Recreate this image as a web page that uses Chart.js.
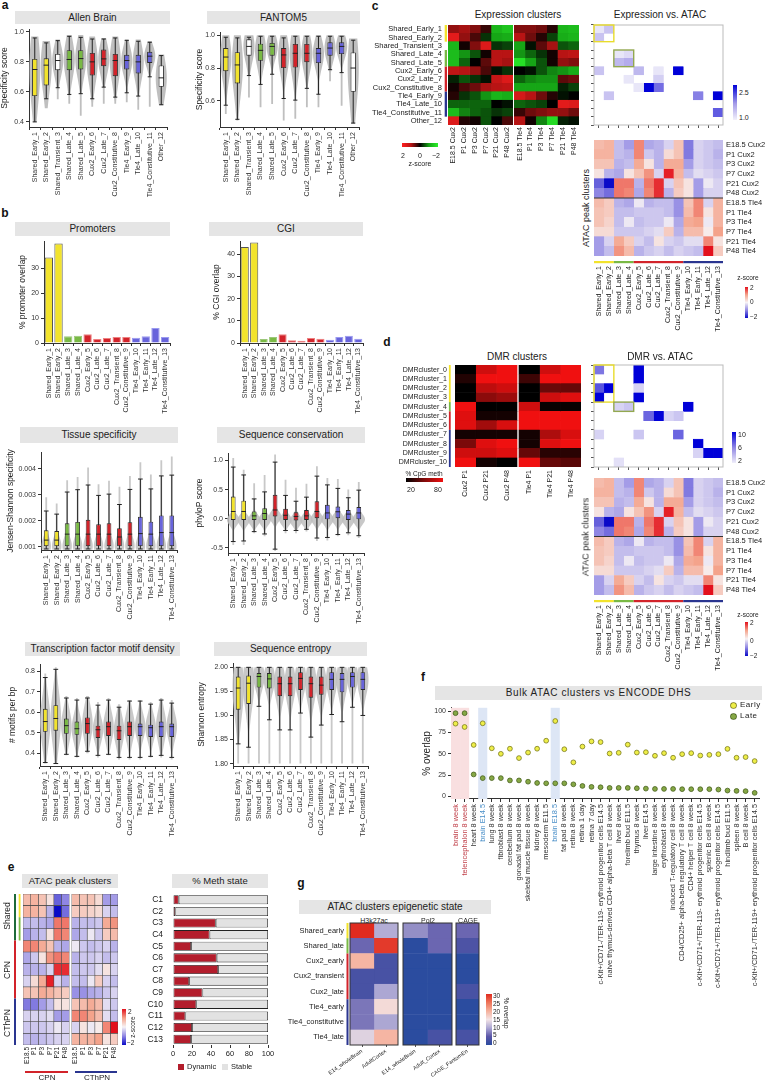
<!DOCTYPE html>
<html>
<head>
<meta charset="utf-8">
<script src="https://cdn.jsdelivr.net/npm/chart.js@4.4.0/dist/chart.umd.min.js"></script>
<style>
  body { margin: 0; width: 769px; height: 1082px; position: relative; background: #fff; overflow: hidden;
         font-family: 'Liberation Sans', Arial, sans-serif; color: #222; }
  .t { position: absolute; white-space: nowrap; line-height: 1; }
  .strip { position: absolute; background: #e5e5e5; text-align: center; color: #222; white-space: nowrap; }
  canvas { position: absolute; }
</style>
</head>
<body>
<script>
// ---------- data ----------
const clusters12 = ['Shared_Early_1', 'Shared_Early_2', 'Shared_Transient_3', 'Shared_Late_4', 'Shared_Late_5',
  'Cux2_Early_6', 'Cux2_Late_7', 'Cux2_Constitutive_8', 'Tle4_Early_9', 'Tle4_Late_10', 'Tle4_Constitutive_11', 'Other_12'];
const clusters13 = ['Shared_Early_1', 'Shared_Early_2', 'Shared_Late_3', 'Shared_Late_4', 'Cux2_Early_5', 'Cux2_Late_6',
  'Cux2_Late_7', 'Cux2_Transient_8', 'Cux2_Constitutive_9', 'Tle4_Early_10', 'Tle4_Early_11', 'Tle4_Late_12', 'Tle4_Constitutive_13'];

// a: Allen Brain
const allenHi  = [0.96, 0.927, 0.942, 0.971, 0.964, 0.953, 0.953, 0.96, 0.944, 0.938, 0.931, 0.842];
const allenQ3  = [0.82, 0.824, 0.853, 0.878, 0.878, 0.86, 0.882, 0.853, 0.847, 0.847, 0.867, 0.776];
const allenMed = [0.749, 0.778, 0.809, 0.816, 0.822, 0.8, 0.82, 0.809, 0.809, 0.8, 0.838, 0.693];
const allenQ1  = [0.571, 0.642, 0.744, 0.744, 0.749, 0.709, 0.771, 0.704, 0.749, 0.722, 0.793, 0.633];
const allenLo  = [0.398, 0.553, 0.627, 0.582, 0.587, 0.553, 0.631, 0.564, 0.593, 0.571, 0.70, 0.513];
const allenVmin = [0.398, 0.49, 0.55, 0.52, 0.44, 0.50, 0.52, 0.52, 0.53, 0.48, 0.50, 0.51];
const allenVmax = [0.97, 0.94, 0.95, 0.98, 0.98, 0.97, 0.96, 0.97, 0.95, 0.95, 0.94, 0.85];
// a: FANTOM5
const fanHi  = [0.988, 0.984, 0.988, 0.994, 0.994, 0.984, 0.994, 0.994, 0.994, 0.994, 0.994, 0.97];
const fanQ3  = [0.922, 0.897, 0.975, 0.949, 0.953, 0.922, 0.947, 0.947, 0.922, 0.957, 0.957, 0.895];
const fanMed = [0.867, 0.819, 0.932, 0.908, 0.932, 0.88, 0.89, 0.89, 0.89, 0.922, 0.932, 0.80];
const fanQ1  = [0.781, 0.706, 0.875, 0.844, 0.875, 0.80, 0.803, 0.836, 0.83, 0.875, 0.885, 0.655];
const fanLo  = [0.573, 0.487, 0.754, 0.70, 0.762, 0.614, 0.604, 0.676, 0.64, 0.79, 0.772, 0.464];
const fanVmin = [0.52, 0.48, 0.62, 0.56, 0.58, 0.48, 0.49, 0.56, 0.56, 0.72, 0.57, 0.46];
const fanVmax = [1, 1, 1, 1, 1, 1, 1, 1, 1, 1, 1, 0.98];

// b: bars
const promoterPct = [34.4, 40, 2.7, 2.9, 3.5, 1.6, 2.0, 2.4, 2.4, 2.1, 2.7, 6.0, 2.4];
const cgiPct      = [43.3, 45.3, 1.8, 2.7, 3.9, 1.2, 1.0, 2.2, 1.9, 1.5, 2.7, 3.3, 1.9];

// b: tissue specificity
const tsHi  = [0.00237, 0.00225, 0.0031, 0.00319, 0.00337, 0.00297, 0.00302, 0.00262, 0.0032, 0.0036, 0.00322, 0.00372, 0.00375];
const tsQ3  = [0.00163, 0.0016, 0.0019, 0.00195, 0.00203, 0.00186, 0.0019, 0.00171, 0.00194, 0.00215, 0.00196, 0.0022, 0.0022];
const tsMed = [0.00125, 0.00125, 0.00148, 0.00148, 0.00148, 0.00148, 0.00148, 0.00137, 0.00148, 0.0015, 0.00148, 0.00154, 0.00154];
const tsQ1  = [0.00102, 0.00102, 0.00102, 0.00102, 0.00102, 0.00102, 0.00102, 0.00102, 0.00102, 0.00102, 0.00102, 0.00102, 0.00102];
const tsLo  = [0.00091, 0.00091, 0.00091, 0.00091, 0.00091, 0.00091, 0.00091, 0.00091, 0.00091, 0.00091, 0.00091, 0.00091, 0.00091];
const tsVmin = [0.00088, 0.00088, 0.00088, 0.00088, 0.00088, 0.00088, 0.00088, 0.00088, 0.00088, 0.00088, 0.00088, 0.00088, 0.00088];
const tsVmax = [0.0029, 0.00266, 0.00355, 0.00368, 0.00404, 0.0034, 0.00353, 0.0033, 0.00372, 0.00425, 0.00377, 0.00432, 0.00447];
// b: sequence conservation
const phHi  = [0.885, 0.75, 0.34, 0.46, 0.97, 0.40, 0.30, 0.37, 0.73, 0.58, 0.52, 0.36, 0.49];
const phQ3  = [0.38, 0.31, 0.125, 0.18, 0.41, 0.17, 0.11, 0.15, 0.30, 0.24, 0.21, 0.15, 0.20];
const phMed = [0.125, 0.125, 0.05, 0.09, 0.15, 0.06, 0.04, 0.05, 0.125, 0.10, 0.12, 0.08, 0.10];
const phQ1  = [-0.02, -0.02, -0.02, -0.02, 0.04, -0.02, -0.03, -0.02, 0, -0.01, 0, -0.02, -0.01];
const phLo  = [-0.39, -0.38, -0.22, -0.26, -0.52, -0.20, -0.20, -0.18, -0.33, -0.32, -0.27, -0.24, -0.29];
const phVmin = [-0.45, -0.45, -0.25, -0.3, -0.55, -0.25, -0.25, -0.22, -0.38, -0.37, -0.3, -0.28, -0.33];
const phVmax = [1.04, 0.84, 0.61, 0.75, 1.1, 0.67, 0.53, 0.6, 0.9, 0.7, 0.68, 0.5, 0.63];
// b: TF motif density
const tfHi  = [0.77, 0.81, 0.67, 0.66, 0.67, 0.635, 0.66, 0.625, 0.655, 0.655, 0.64, 0.66, 0.645];
const tfQ3  = [0.617, 0.635, 0.57, 0.555, 0.575, 0.535, 0.555, 0.535, 0.555, 0.545, 0.54, 0.555, 0.545];
const tfMed = [0.555, 0.57, 0.535, 0.52, 0.545, 0.515, 0.53, 0.51, 0.53, 0.53, 0.525, 0.53, 0.53];
const tfQ1  = [0.505, 0.51, 0.495, 0.49, 0.495, 0.475, 0.485, 0.465, 0.485, 0.485, 0.48, 0.48, 0.48];
const tfLo  = [0.355, 0.35, 0.395, 0.385, 0.41, 0.39, 0.395, 0.38, 0.38, 0.38, 0.385, 0.39, 0.38];
const tfVmin = [0.35, 0.35, 0.39, 0.38, 0.40, 0.38, 0.39, 0.37, 0.37, 0.37, 0.38, 0.38, 0.37];
const tfVmax = [0.79, 0.82, 0.68, 0.67, 0.68, 0.65, 0.67, 0.64, 0.66, 0.66, 0.65, 0.67, 0.66];
// b: sequence entropy
const enHi  = [2, 2, 2, 2, 2, 2, 2, 2, 2, 2, 2, 2, 2];
const enQ3  = [1.981, 1.983, 1.988, 1.988, 1.981, 1.981, 1.99, 1.981, 1.981, 1.99, 1.988, 1.99, 1.99];
const enMed = [1.957, 1.967, 1.981, 1.976, 1.966, 1.966, 1.977, 1.966, 1.963, 1.975, 1.975, 1.981, 1.975];
const enQ1  = [1.912, 1.924, 1.958, 1.956, 1.94, 1.94, 1.953, 1.937, 1.943, 1.953, 1.948, 1.958, 1.953];
const enLo  = [1.841, 1.834, 1.919, 1.891, 1.87, 1.87, 1.905, 1.855, 1.88, 1.902, 1.887, 1.917, 1.90];
const enVmin = [1.8, 1.8, 1.8, 1.8, 1.8, 1.8, 1.8, 1.8, 1.8, 1.8, 1.8, 1.8, 1.8];
const enVmax = [2, 2, 2, 2, 2, 2, 2, 2, 2, 2, 2, 2, 2];

// c: expression clusters (z-score), columns Cux2 then Tle4
const exprCols = ['E18.5 Cux2', 'P1 Cux2', 'P3 Cux2', 'P7 Cux2', 'P21 Cux2', 'P48 Cux2',
  'E18.5 Tle4', 'P1 Tle4', 'P3 Tle4', 'P7 Tle4', 'P21 Tle4', 'P48 Tle4'];
const exprZ = [
  [0.8, 0.9, 0.7, 0.3, -1.2, -1.4, 0.7, 0.7, 0.6, 0.2, -1.2, -1.3],
  [1.6, 0.8, 0.4, -0.3, -1.0, -1.1, 1.0, 0.6, 0.2, -0.4, -1.1, -1.2],
  [-1.2, 0.1, 0.7, 1.5, -0.3, -0.4, -1.0, -0.1, 0.5, 0.9, -0.5, -0.6],
  [-1.3, -0.9, -0.5, 0.1, 1.0, 1.0, -0.9, -0.6, -0.3, 0.1, 1.0, 1.1],
  [-1.3, -0.6, 0.0, 0.5, 1.0, 0.9, -1.8, -1.0, -0.5, 0.1, 0.8, 0.7],
  [1.1, 1.0, 0.8, 0.4, -0.1, -0.3, 0.0, -0.1, -0.5, -0.8, -0.9, -1.1],
  [-0.2, -0.5, -0.3, -0.1, 1.2, 1.5, -0.6, -0.8, -0.9, -0.9, 0.5, 0.6],
  [0.1, 0.4, 0.6, 0.9, 1.0, 1.1, -1.0, -1.0, -1.0, -1.0, -0.2, -0.4],
  [0.2, -0.3, -0.5, -0.9, -1.2, -1.1, 1.4, 1.0, 0.6, 0.2, -0.1, 0.0],
  [-0.6, -0.6, -0.6, -0.6, 0.0, -0.1, -0.6, -0.5, -0.4, 0.0, 1.6, 1.5],
  [-1.3, -0.8, -0.6, -0.5, -0.3, -0.4, 0.3, 0.6, 0.7, 0.8, 0.8, 0.6],
  [1.5, 0.2, 0.1, -0.5, 0.0, 0.4, 1.0, 0.1, -0.8, -1.7, -0.2, -0.1]
];
// c: expression vs ATAC enrichment (0 = empty)
const expVsAtac = [
  [1.1, 1.4, 0, 0, 0, 0, 0, 0, 0, 0, 0, 0, 0],
  [1.4, 0, 0, 0, 0, 0, 0, 0, 0, 0, 0, 0, 0],
  [0, 0, 0, 0, 0, 0, 0, 0, 0, 0, 0, 0, 0],
  [0, 0, 1.1, 1.2, 0, 0, 0, 0, 0, 0, 0, 0, 0],
  [0, 0, 1.5, 1.6, 0, 0, 0, 0, 0, 0, 0, 0, 0],
  [1.4, 0, 0, 0, 1.5, 0, 1.1, 0, 2.9, 0, 0, 0, 0],
  [0, 0, 0, 1.1, 0, 0, 1.3, 0, 0, 0, 0, 0, 0],
  [0, 0, 0, 0, 1.1, 2.9, 2.0, 0, 0, 0, 0, 0, 0],
  [0, 1.4, 0, 0, 0, 0, 0, 0, 0, 0, 1.9, 0, 2.9],
  [0, 0, 0, 0, 0, 0, 0, 0, 0, 0, 0, 0, 0],
  [0, 0, 0, 0, 0, 0, 0, 0, 0, 0, 0, 0, 2.1],
  [0, 0, 0, 0, 0, 0, 0, 0, 0, 0, 0, 0, 0]
];

// ATAC peak clusters z-score: rows = 13 clusters, cols = CPN E18.5..P48, CThPN E18.5..P48
const atacZ = [
  [0.7, 0.8, 0.6, 0.2, -1.3, -1.0, 0.7, 0.6, 0.6, 0.3, -0.8, -0.8],
  [0.8, 0.8, 0.6, -0.6, -2.0, -1.2, 0.5, 0.5, 0.4, 0.3, -0.3, -0.5],
  [-0.5, -0.5, -0.6, -0.7, 1.3, 1.3, -0.6, -0.5, -0.5, -0.4, 0.9, 1.1],
  [-0.8, -0.6, -0.5, 0.2, 1.3, 1.2, -0.7, -0.5, -0.1, -0.4, 0.5, 0.7],
  [1.2, 1.2, 0.9, 0.6, -0.6, -0.7, -0.1, -0.4, -0.5, -0.4, -0.3, -0.6],
  [-0.7, -0.4, 0.2, 1.1, 1.3, 1.2, -0.6, -0.4, -0.4, -0.3, -0.5, -0.4],
  [-0.6, -0.6, -0.6, -0.3, 1.8, 1.8, -0.5, -0.4, -0.4, -0.2, 0.2, -0.3],
  [-0.3, 0.3, 0.9, 1.9, -0.3, -0.6, -0.5, -0.5, -0.1, 0.5, -0.3, -0.5],
  [0.6, 0.6, 0.9, 0.8, 0.6, 0.5, -0.9, -0.9, -0.7, -0.6, -0.4, -0.3],
  [-1.1, -1.1, -0.8, -0.5, 0.2, 0.2, 0.6, 0.7, 0.9, 0.7, -0.2, -0.4],
  [-0.3, -0.3, -0.3, -0.2, -0.8, -0.8, 1.2, 1.2, 1.0, 0.7, -0.2, -0.5],
  [-0.4, -0.4, -0.4, -0.3, -0.1, -0.3, -0.3, 0.2, -0.1, 0.1, 1.2, 2.0],
  [-0.5, -0.6, -0.5, -0.4, -0.3, -0.3, 0.8, 0.8, 0.8, 1.0, 0.2, 0.5]
];
const atacRows = ['E18.5 Cux2', 'P1 Cux2', 'P3 Cux2', 'P7 Cux2', 'P21 Cux2', 'P48 Cux2',
  'E18.5 Tle4', 'P1 Tle4', 'P3 Tle4', 'P7 Tle4', 'P21 Tle4', 'P48 Tle4'];

// d: DMR clusters (% CpG methylation)
const dmrRows = ['DMRcluster_0', 'DMRcluster_1', 'DMRcluster_2', 'DMRcluster_3', 'DMRcluster_4', 'DMRcluster_5',
  'DMRcluster_6', 'DMRcluster_7', 'DMRcluster_8', 'DMRcluster_9', 'DMRcluster_10'];
const dmrCols = ['Cux2 P1', 'Cux2 P21', 'Cux2 P48', 'Tle4 P1', 'Tle4 P21', 'Tle4 P48'];
const dmrMeth = [
  [20, 75, 85, 20, 75, 85],
  [28, 85, 85, 35, 85, 85],
  [20, 70, 75, 20, 46, 45],
  [20, 55, 60, 20, 75, 80],
  [85, 20, 20, 75, 22, 22],
  [80, 25, 25, 85, 85, 85],
  [80, 62, 78, 85, 85, 85],
  [25, 25, 25, 25, 65, 78],
  [50, 80, 85, 25, 80, 85],
  [75, 75, 80, 45, 30, 30],
  [90, 25, 20, 90, 45, 42]
];
const dmrVsAtac = [
  [6.5, 0, 0, 0, 10, 0, 0, 0, 0, 0, 0, 0, 0],
  [0, 0, 0, 0, 10, 0, 0, 0, 0, 0, 0, 0, 0],
  [7.5, 10, 0, 0, 3, 0, 0, 0, 0, 0, 0, 0, 0],
  [10, 0, 0, 0, 10, 0, 0, 0, 0, 0, 0, 0, 0],
  [0, 0, 3, 3.5, 0, 0, 0, 0, 0, 10, 0, 0, 0],
  [0, 0, 0, 0, 0, 7, 10, 3, 3.5, 0, 0, 0, 0],
  [0, 0, 0, 0, 0, 0, 0, 0, 0, 0, 0, 0, 0],
  [3, 0, 0, 0, 3.5, 0, 0, 0, 7, 0, 0, 0, 0],
  [0, 0, 0, 0, 0, 0, 0, 0, 0, 0, 10, 0, 0],
  [0, 0, 0, 0, 0, 0, 0, 0, 0, 0, 3, 10, 10],
  [0, 0, 2.5, 0, 0, 0, 0, 0, 0, 0, 0, 0, 0]
];

// e
const eRows = ['C1', 'C2', 'C3', 'C4', 'C5', 'C6', 'C7', 'C8', 'C9', 'C10', 'C11', 'C12', 'C13'];
const eCols = ['E18.5', 'P1', 'P3', 'P7', 'P21', 'P48', 'E18.5', 'P1', 'P3', 'P7', 'P21', 'P48'];
const methDynamic = [6, 2.5, 45, 38.5, 19, 46, 47.5, 17, 31, 24.5, 13, 20, 19];

// f
const fTissues = ['brain 8 week', 'telencephalon 8 week', 'heart 8 week', 'brain E14.5', 'lung 8 week',
  'fibroblast 8 week', 'cerebellum 8 week', 'gonadal fat pad 8 week', 'skeletal muscle tissue 8 week',
  'kidney 8 week', 'mesoderm E11.5', 'brain E18.5', 'fat pad 8 week', 'retina 8 week', 'retina 1 day',
  'retina 7 day', 'c-Kit+/CD71-/TER-119- erythroid progenitor cells E14.5',
  'naive thymus-derived CD4+ alpha-beta T cell 8 week', 'liver 8 week', 'forelimb bud E11.5', 'thymus 8 week',
  'liver E14.5', 'large intestine 8 week', 'erythroblast 8 week', 'induced T-regulatory cell 8 week',
  'CD4/CD25+ alpha-beta regulatory T cell 8 week', 'CD4+ helper T cell 8 week',
  'c-Kit+/CD71+/TER-119- erythroid progenitor cells E14.5', 'splenic B cell 8 week',
  'c-Kit+/CD71+/TER-119+ erythroid progenitor cells E14.5', 'hindlimb bud E11.5', 'spleen 8 week',
  'B cell 8 week', 'c-Kit+/CD71-/TER-119+ erythroid progenitor cells E14.5'];
const fEarly = [85.4, 81.5, 60.4, 85.8, 56.5, 50, 56, 45, 51.5, 56, 65.4, 88.5, 55.4, 40, 58.5, 64.6, 63.8,
  50.4, 51.2, 60.8, 51.5, 51.9, 47.7, 50.8, 45.4, 49.6, 50.8, 48, 48.8, 49.6, 55.8, 45.4, 46.2, 41.5];
const fLate = [97.7, 97.7, 25.8, 21.5, 21.5, 21.5, 18.8, 18.8, 17.3, 15.8, 15.4, 15.4, 15.4, 14.2, 12.3, 11.2, 10.8,
  10, 10, 10, 9.6, 9.2, 8.8, 8.8, 8.8, 8.5, 8.5, 8.5, 8.5, 8.1, 6.9, 6.5, 6.2, 4.2];
const fAdultBrain = [0, 1];
const fEmbryoBrain = [3, 11];

// g
const gRows = ['Shared_early', 'Shared_late', 'Cux2_early', 'Cux2_transient', 'Cux2_late', 'Tle4_early', 'Tle4_constitutive', 'Tle4_late'];
const gH3k27ac = [[30, 10.5], [6, 29], [19.5, 3], [3, 3], [3, 10], [7, 16], [7, 10], [13.5, 19.5]];
const gPol2 = [[8.5, 6], [0, 6], [0, 0], [0, 0], [0, 0], [0, 0], [0, 0], [0, 3]];
const gCage = [[6], [3.5], [0], [0], [3], [0], [0], [3]];

// ---------- colours ----------
const YEL = '#f2e32c', GRN = '#79b944', RED = '#d2232a', BLU = '#6864db', NAVY = '#2a3590', DKGRN = '#1e6a3a';
const fills12 = [YEL, YEL, '#ffffff', GRN, GRN, RED, RED, RED, BLU, BLU, BLU, '#ffffff'];
const fills13 = [YEL, YEL, GRN, GRN, RED, RED, RED, RED, RED, BLU, BLU, BLU, BLU];
const edges13 = ['#555', '#555', '#9cc77a', '#9cc77a', '#ee8080', '#ee8080', '#ee8080', '#ee8080', '#ee8080',
  '#9a9af0', '#9a9af0', '#9a9af0', '#9a9af0'];

function hex2rgb(h) { const n = parseInt(h.slice(1), 16); return [n >> 16, (n >> 8) & 255, n & 255]; }
function ramp(stops) {
  const s = stops.map(([v, c]) => [v, hex2rgb(c)]);
  return v => {
    if (v <= s[0][0]) return `rgb(${s[0][1]})`;
    for (let i = 1; i < s.length; i++) {
      if (v <= s[i][0]) {
        const t = (v - s[i - 1][0]) / (s[i][0] - s[i - 1][0]);
        return `rgb(${s[i - 1][1].map((a, k) => Math.round(a + (s[i][1][k] - a) * t))})`;
      }
    }
    return `rgb(${s[s.length - 1][1]})`;
  };
}
const zStops = [[-2, '#0a0ac8'], [-1, '#8f86e3'], [0, '#f7f3f5'], [1, '#f4a38b'], [2, '#e3101c']];
const exprStops = [[-2, '#2af02a'], [-1, '#16a616'], [0, '#000000'], [1, '#b81414'], [2, '#ff2020']];
const dmrStops = [[20, '#000000'], [50, '#7a0a0a'], [85, '#f01010']];
const expVsStops = [[1, '#f3f1fb'], [1.75, '#a49be8'], [2.6, '#0000d8']];
const dmrVsStops = [[2, '#efedfa'], [6, '#8f86e3'], [10, '#0000d8']];
const gStops = [[0, '#2b4c9f'], [5, '#5b56a8'], [10, '#aca7d3'], [15, '#f3e4e6'], [20, '#f5b09b'], [25, '#ee7459'], [30, '#e02b1f']];
const zCol = ramp(zStops), exprCol = ramp(exprStops), dmrCol = ramp(dmrStops), gCol = ramp(gStops);
const sparse = f => v => v ? f(v) : 'rgba(0,0,0,0)';
const expVsCol = sparse(ramp(expVsStops)), dmrVsCol = sparse(ramp(dmrVsStops));

// ---------- helpers ----------
Chart.defaults.font.family = "'Liberation Sans', Arial, sans-serif";
Chart.defaults.font.size = 7;
Chart.defaults.color = '#333';
Chart.defaults.plugins.legend.display = false;
Chart.defaults.plugins.tooltip.enabled = false;

function txt(s, x, y, o = {}) {
  const d = document.createElement('div');
  d.className = 't';
  d.textContent = s;
  d.style.fontSize = (o.size || 8) + 'px';
  if (o.bold) d.style.fontWeight = 'bold';
  if (o.color) d.style.color = o.color;
  if (o.ls) d.style.letterSpacing = o.ls + 'px';
  d.style.left = x + 'px';
  d.style.top = y + 'px';
  const ax = o.ax ?? 0.5, ay = o.ay ?? 0.5;
  d.style.transform = `translate(${-ax * 100}%, ${-ay * 100}%)` + (o.rot ? ` rotate(${o.rot}deg)` : '');
  document.body.appendChild(d);
}
function strip(x0, y0, x1, y1, label, size = 10, ls = 0) {
  const d = document.createElement('div');
  d.className = 'strip';
  Object.assign(d.style, { left: x0 + 'px', top: y0 + 'px', width: (x1 - x0) + 'px', height: (y1 - y0) + 'px',
    lineHeight: (y1 - y0) + 'px', fontSize: size + 'px', letterSpacing: ls + 'px' });
  d.textContent = label;
  document.body.appendChild(d);
}
function rect(x0, y0, x1, y1, bg) {
  const d = document.createElement('div');
  Object.assign(d.style, { position: 'absolute', left: x0 + 'px', top: y0 + 'px', width: (x1 - x0) + 'px', height: (y1 - y0) + 'px', background: bg });
  document.body.appendChild(d);
  return d;
}
function cbar(x0, y0, x1, y1, stops, dir) {
  const lo = stops[0][0], hi = stops[stops.length - 1][0];
  const g = stops.map(([v, c]) => `${c} ${((v - lo) / (hi - lo) * 100).toFixed(1)}%`).join(',');
  rect(x0, y0, x1, y1, `linear-gradient(${dir}, ${g})`);
}

const fit = (k, v) => s => { s[k] = v; s.paddingLeft = s.paddingRight = s.paddingTop = s.paddingBottom = 0; };

function mk(b, cfg) {
  const yw = b.yw || 0, yr = b.yr || 0, xh = b.xh || 0, pt = b.pt ?? 3, pr = b.pr ?? 2, pl = b.pl || 0;
  const left = b.x0 - yw - pl, top = b.y0 - pt;
  const c = document.createElement('canvas');
  c.width = b.x1 + yr + pr - left;
  c.height = b.y1 + xh - top;
  c.style.cssText = `left:${left}px;top:${top}px;width:${c.width}px;height:${c.height}px`;
  document.body.appendChild(c);
  cfg.options = Object.assign({ responsive: false, animation: false, devicePixelRatio: 1,
    layout: { padding: { left: pl, top: pt, right: pr, bottom: 0 } } }, cfg.options);
  return new Chart(c, cfg);
}

let pid = 0;
// boxplot decorations: violin, whiskers, caps, medians
function boxDecor(st, o) {
  return {
    id: 'box' + (pid++),
    beforeDatasetsDraw(chart) {
      const { ctx, scales: { x, y } } = chart;
      const step = x.getPixelForValue(1) - x.getPixelForValue(0);
      ctx.save();
      st.med.forEach((m, i) => {
        const cx = x.getPixelForValue(i);
        const mode = o.mode === 'q1' ? st.q1[i] : m;
        const sd = o.vsd ? o.vsd : (st.q3[i] - st.q1[i]) / 1.35 * (o.vsf || 1);
        const W = step * o.vw;
        const pts = [];
        for (let k = 0; k <= 60; k++) {
          const v = st.vmin[i] + (st.vmax[i] - st.vmin[i]) * k / 60;
          const z = (v - mode) / sd;
          pts.push([y.getPixelForValue(v), Math.max(W * Math.exp(-0.5 * z * z), 0.9)]);
        }
        ctx.beginPath();
        pts.forEach(([py, hw], k) => k ? ctx.lineTo(cx + hw, py) : ctx.moveTo(cx + hw, py));
        for (let k = pts.length - 1; k >= 0; k--) ctx.lineTo(cx - pts[k][1], pts[k][0]);
        ctx.closePath();
        ctx.fillStyle = o.vcol;
        ctx.fill();
        ctx.strokeStyle = '#222';
        ctx.lineWidth = 1;
        ctx.beginPath();
        ctx.moveTo(cx, y.getPixelForValue(st.lo[i]));
        ctx.lineTo(cx, y.getPixelForValue(st.hi[i]));
        ctx.stroke();
        const cw = step * o.cw / 2;
        [st.lo[i], st.hi[i]].forEach(v => {
          const py = y.getPixelForValue(v);
          ctx.beginPath(); ctx.moveTo(cx - cw, py); ctx.lineTo(cx + cw, py); ctx.stroke();
        });
      });
      ctx.restore();
    },
    afterDatasetsDraw(chart) {
      const { ctx, scales: { x, y } } = chart;
      const step = x.getPixelForValue(1) - x.getPixelForValue(0);
      ctx.save();
      ctx.strokeStyle = '#222';
      ctx.lineWidth = 1;
      st.med.forEach((m, i) => {
        const cx = x.getPixelForValue(i), py = y.getPixelForValue(m), hw = step * o.bw / 2;
        ctx.beginPath(); ctx.moveTo(cx - hw, py); ctx.lineTo(cx + hw, py); ctx.stroke();
      });
      ctx.restore();
    }
  };
}

const xCat = (h, size = 7) => ({
  type: 'category', offset: true,
  ticks: { autoSkip: false, minRotation: 90, maxRotation: 90, padding: 2, font: { size }, color: '#333' },
  grid: { display: true, drawOnChartArea: false, tickLength: 3, color: '#333' },
  border: { display: true, color: '#333', width: 1 },
  afterFit: fit('height', h)
});
const yLin = (min, max, ticks, fmt, title, w, tsize = 8.5) => ({
  min, max,
  afterBuildTicks: s => { s.ticks = ticks.map(value => ({ value })); },
  ticks: { callback: fmt, padding: 2, font: { size: 7 }, color: '#333' },
  grid: { drawOnChartArea: false, tickLength: 3, color: '#333' },
  border: { color: '#333', width: 1 },
  title: { display: true, text: title, font: { size: tsize }, padding: 0, color: '#222' },
  afterFit: fit('width', w)
});

function boxChart(b, labels, fills, st, o) {
  return mk(b, {
    type: 'bar',
    data: { labels, datasets: [{ data: st.q1.map((v, i) => [v, st.q3[i]]), backgroundColor: fills,
      borderColor: '#2b2b2b', borderWidth: 0.9, borderSkipped: false, barPercentage: o.bw, categoryPercentage: 1 }] },
    options: { scales: { x: xCat(b.xh), y: yLin(o.min, o.max, o.ticks, o.fmt, o.title, b.yw) } },
    plugins: [boxDecor(st, o)]
  });
}

// heatmap plugins
function rowBand(chart, i0, i1) {
  const y = chart.scales.y;
  const h = Math.abs(y.getPixelForValue(1) - y.getPixelForValue(0));
  return [y.getPixelForValue(i0) - h / 2, y.getPixelForValue(i1) + h / 2];
}
function colBand(chart, pos, j0, j1) {
  const x = chart.scales.x;
  return [x.getPixelForValue(pos[j0]), x.getPixelForValue(pos[j1] + 1)];
}
const rowStrips = (groups, off, th) => ({
  id: 'rs' + (pid++),
  afterDraw(chart) {
    const { ctx, chartArea: a } = chart;
    groups.forEach(([i0, i1, col]) => {
      const [t, bt] = rowBand(chart, i0, i1);
      ctx.fillStyle = col;
      ctx.fillRect(a.left - off - th, t, th, bt - t);
    });
  }
});
const colStrips = (groups, pos, off, th) => ({
  id: 'cs' + (pid++),
  afterDraw(chart) {
    const { ctx, chartArea: a } = chart;
    groups.forEach(([j0, j1, col]) => {
      const [l, r] = colBand(chart, pos, j0, j1);
      ctx.fillStyle = col;
      ctx.fillRect(l, a.bottom + off, r - l, th);
    });
  }
});
const frame = (col, lw = 1) => ({
  id: 'fr' + (pid++),
  afterDatasetsDraw(chart) {
    const { ctx, chartArea: a } = chart;
    ctx.save(); ctx.strokeStyle = col; ctx.lineWidth = lw;
    ctx.strokeRect(a.left, a.top, a.right - a.left, a.bottom - a.top);
    ctx.restore();
  }
});
const divider = k => ({
  id: 'dv' + (pid++),
  afterDatasetsDraw(chart) {
    const { ctx, chartArea: a, scales: { y } } = chart;
    const py = (y.getPixelForValue(k - 1) + y.getPixelForValue(k)) / 2;
    ctx.save(); ctx.strokeStyle = '#333'; ctx.lineWidth = 1.2;
    ctx.beginPath(); ctx.moveTo(a.left, py); ctx.lineTo(a.right, py); ctx.stroke();
    ctx.restore();
  }
});
const cellBoxes = (boxes, pos) => ({
  id: 'cb' + (pid++),
  afterDatasetsDraw(chart) {
    const { ctx } = chart;
    ctx.save(); ctx.lineWidth = 1.4;
    boxes.forEach(([r0, r1, c0, c1, col]) => {
      const [t, bt] = rowBand(chart, r0, r1);
      const [l, r] = colBand(chart, pos, c0, c1);
      ctx.strokeStyle = col;
      ctx.strokeRect(l, t, r - l, bt - t);
    });
    ctx.restore();
  }
});

function heat(b, o) {
  const pos = o.pos || o.cols.map((_, j) => j);
  const datasets = o.cols.map((_, j) => {
    const fill = o.rows.map((_, i) => o.color(o.mat[i][j]));
    return {
      data: o.rows.map(() => [pos[j], pos[j] + 1]),
      backgroundColor: fill,
      borderColor: o.edge || fill, borderWidth: o.edge ? 0.6 : 0.3, borderSkipped: false,
      barPercentage: 1, categoryPercentage: 1, grouped: false
    };
  });
  const plugins = (o.plugins || []).map(p => typeof p === 'function' ? p(pos) : p);
  return mk(b, {
    type: 'bar',
    data: { labels: o.rows, datasets },
    options: {
      indexAxis: 'y',
      scales: {
        x: {
          type: 'linear', min: 0, max: pos[pos.length - 1] + 1,
          afterBuildTicks: s => { s.ticks = pos.map(p => ({ value: p + 0.5 })); },
          ticks: { display: !!o.xlab, autoSkip: false, minRotation: o.rot ?? 90, maxRotation: o.rot ?? 90,
            padding: o.xpad ?? 2, font: { size: o.xfs || 7 }, color: '#222', callback: (v, i) => o.xlab ? o.xlab[i] : '' },
          grid: { display: !!o.xtick, drawOnChartArea: false, tickLength: o.xtick || 0, color: '#555' },
          border: { display: false },
          afterFit: fit('height', b.xh || 0)
        },
        y: {
          type: 'category', position: o.ypos || 'left', offset: true,
          ticks: { display: !!o.ylab, autoSkip: false, padding: o.ypad ?? 3, font: { size: o.yfs || 7.5 }, color: '#222' },
          grid: { display: !!o.ytick, drawOnChartArea: false, tickLength: o.ytick || 0, color: '#555' },
          border: { display: false },
          afterFit: fit('width', o.ypos === 'right' ? b.yr : b.yw)
        }
      }
    },
    plugins
  });
}

// ---------- panel letters ----------
[['a', 5, 5], ['b', 5, 213], ['c', 375, 6], ['d', 387, 342], ['e', 11, 867], ['f', 423, 677], ['g', 301, 883]]
  .forEach(([s, x, y]) => txt(s, x, y, { size: 12, bold: true, color: '#111' }));

// ---------- a ----------
strip(15, 11, 170, 24, 'Allen Brain');
strip(207, 11, 360, 24, 'FANTOM5');
boxChart({ x0: 29, y0: 29, x1: 167, y1: 127, yw: 29, xh: 76, pt: 5, pr: 4 }, clusters12, fills12,
  { lo: allenLo, q1: allenQ1, med: allenMed, q3: allenQ3, hi: allenHi, vmin: allenVmin, vmax: allenVmax },
  { min: 0.364, max: 1.02, ticks: [0.4, 0.6, 0.8, 1.0], fmt: v => v.toFixed(1), title: 'Specificity score',
    bw: 0.46, vw: 0.48, cw: 0.36, vcol: 'rgba(170,170,170,0.75)', vsf: 1.3 });
boxChart({ x0: 220, y0: 32, x1: 359, y1: 127, yw: 25, xh: 76, pt: 5, pr: 4 }, clusters12, fills12,
  { lo: fanLo, q1: fanQ1, med: fanMed, q3: fanQ3, hi: fanHi, vmin: fanVmin, vmax: fanVmax },
  { min: 0.44, max: 1.02, ticks: [0.6, 0.8, 1.0], fmt: v => v.toFixed(1), title: 'Specificity score',
    bw: 0.46, vw: 0.48, cw: 0.36, vcol: 'rgba(170,170,170,0.75)', vsf: 1.3 });

// ---------- b ----------
strip(15, 222, 170, 236, 'Promoters');
strip(209, 222, 363, 236, 'CGI');
mk({ x0: 44, y0: 241, x1: 170, y1: 343, yw: 26, xh: 76, pt: 5, pr: 4 }, {
  type: 'bar',
  data: { labels: clusters13, datasets: [{ data: promoterPct, backgroundColor: fills13, borderColor: edges13,
    borderWidth: 1, barPercentage: 0.86, categoryPercentage: 1 }] },
  options: { scales: { x: xCat(76), y: yLin(0, 41, [0, 10, 20, 30], v => v, '% promoter overlap', 26) } }
});
mk({ x0: 240, y0: 241, x1: 363, y1: 343, yw: 28, xh: 76, pt: 5, pr: 4 }, {
  type: 'bar',
  data: { labels: clusters13, datasets: [{ data: cgiPct, backgroundColor: fills13, borderColor: edges13,
    borderWidth: 1, barPercentage: 0.86, categoryPercentage: 1 }] },
  options: { scales: { x: xCat(76), y: yLin(0, 46, [0, 10, 20, 30, 40], v => v, '% CGI overlap', 28) } }
});

strip(20, 427, 178, 443, 'Tissue specificity');
strip(217, 427, 365, 443, 'Sequence conservation');
boxChart({ x0: 41, y0: 452, x1: 177, y1: 550, yw: 35, xh: 76, pt: 5, pr: 3 }, clusters13, fills13,
  { lo: tsLo, q1: tsQ1, med: tsMed, q3: tsQ3, hi: tsHi, vmin: tsVmin, vmax: tsVmax },
  { min: 0.00087, max: 0.00464, ticks: [0.001, 0.002, 0.003, 0.004], fmt: v => v.toFixed(3),
    title: 'Jensen-Shannon specificity', bw: 0.45, vw: 0.45, cw: 0.45, vcol: 'rgba(190,190,190,0.85)', mode: 'q1', vsd: 0.00035 });
boxChart({ x0: 228, y0: 453, x1: 364, y1: 553, yw: 33, xh: 76, pt: 5, pr: 3 }, clusters13, fills13,
  { lo: phLo, q1: phQ1, med: phMed, q3: phQ3, hi: phHi, vmin: phVmin, vmax: phVmax },
  { min: -0.586, max: 1.126, ticks: [-0.5, 0, 0.5, 1.0], fmt: v => v.toFixed(1), title: 'phyloP score',
    bw: 0.45, vw: 0.6, cw: 0.45, vcol: 'rgba(190,190,190,0.85)', mode: 'q1', vsd: 0.09 });

strip(25, 642, 180, 656, 'Transcription factor motif density');
strip(214, 642, 367, 656, 'Sequence entropy');
boxChart({ x0: 40, y0: 664, x1: 177, y1: 766, yw: 32, xh: 72, pt: 5, pr: 3 }, clusters13, fills13,
  { lo: tfLo, q1: tfQ1, med: tfMed, q3: tfQ3, hi: tfHi, vmin: tfVmin, vmax: tfVmax },
  { min: 0.338, max: 0.836, ticks: [0.4, 0.5, 0.6, 0.7, 0.8], fmt: v => v.toFixed(1), title: '# motifs per bp',
    bw: 0.45, vw: 0.5, cw: 0.45, vcol: 'rgba(190,190,190,0.85)', vsf: 1.4 });
boxChart({ x0: 233, y0: 663, x1: 368, y1: 766, yw: 36, xh: 72, pt: 5, pr: 1 }, clusters13, fills13,
  { lo: enLo, q1: enQ1, med: enMed, q3: enQ3, hi: enHi, vmin: enVmin, vmax: enVmax },
  { min: 1.795, max: 2.009, ticks: [1.8, 1.85, 1.9, 1.95, 2.0], fmt: v => v.toFixed(2), title: 'Shannon entropy',
    bw: 0.45, vw: 0.55, cw: 0.45, vcol: 'rgba(190,190,190,0.85)', vsf: 1.2 });

// ---------- c ----------
txt('Expression clusters', 518, 15, { size: 10 });
txt('Expression vs. ATAC', 660, 15, { size: 10 });
const exprPos = exprCols.map((_, j) => j + (j >= 6 ? 0.15 : 0));
heat({ x0: 448, y0: 25, x1: 579, y1: 125, yw: 80, xh: 45, pt: 2, pr: 1 }, {
  rows: clusters12, cols: exprCols, mat: exprZ, color: exprCol, pos: exprPos,
  ylab: true, ypad: 6, xlab: exprCols, xpad: 2,
  plugins: [rowStrips([[0, 1, YEL], [3, 4, GRN], [5, 7, RED], [8, 10, NAVY]], 1, 2.3)]
});
heat({ x0: 594, y0: 25, x1: 723, y1: 125, yw: 8, xh: 8, pt: 2, pr: 2 }, {
  rows: clusters12, cols: clusters13, mat: expVsAtac, color: expVsCol, xtick: 3, ytick: 3,
  plugins: [frame('#bbbbbb'), pos => cellBoxes([[0, 1, 0, 1, '#e8dc2c'], [3, 4, 2, 3, '#93a850']], pos)]
});
cbar(402, 143, 438, 147, exprStops, 'to left');
txt('2', 403, 155, { size: 7 }); txt('0', 420, 155, { size: 7 }); txt('\u22122', 436, 155, { size: 7 });
txt('z-score', 420, 163, { size: 7 });
cbar(733, 85, 737, 120, expVsStops, 'to top');
txt('2.5', 739, 92, { size: 7, ax: 0 }); txt('1.0', 739, 117, { size: 7, ax: 0 });

const atacT = atacRows.map((_, i) => clusters13.map((_, j) => atacZ[j][i]));
const atacGroups = [[0, 1, YEL], [2, 3, GRN], [4, 8, RED], [9, 12, NAVY]];
heat({ x0: 594, y0: 140, x1: 723, y1: 256, yw: 0, yr: 45, xh: 82, pt: 2, pl: 2, pr: 0 }, {
  rows: atacRows, cols: clusters13, mat: atacT, color: zCol, ylab: true, ypos: 'right', ypad: 3,
  xlab: clusters13, xpad: 10, plugins: [pos => colStrips(atacGroups, pos, 5, 2.2), divider(6)]
});
txt('ATAC peak clusters', 586, 208, { size: 9, rot: -90 });
txt('z-score', 748, 278, { size: 6.5 });
cbar(745, 287, 748, 318, zStops, 'to top');
txt('2', 750, 288, { size: 6.5, ax: 0 }); txt('0', 750, 302, { size: 6.5, ax: 0 }); txt('\u22122', 750, 317, { size: 6.5, ax: 0 });

// ---------- d ----------
txt('DMR clusters', 517, 357, { size: 10 });
txt('DMR vs. ATAC', 660, 357, { size: 10 });
const dmrPos = dmrCols.map((_, j) => j + (j >= 3 ? 0.08 : 0));
heat({ x0: 455, y0: 365, x1: 581, y1: 467, yw: 80, xh: 40, pt: 2, pr: 1 }, {
  rows: dmrRows, cols: dmrCols, mat: dmrMeth, color: dmrCol, pos: dmrPos,
  ylab: true, ypad: 8, yfs: 7, xlab: dmrCols, xpad: 3,
  plugins: [rowStrips([[0, 3, YEL], [4, 4, GRN], [5, 6, RED], [7, 10, NAVY]], 4.3, 1.8)]
});
heat({ x0: 594, y0: 365, x1: 723, y1: 467, yw: 8, xh: 8, pt: 2, pr: 2 }, {
  rows: dmrRows, cols: clusters13, mat: dmrVsAtac, color: dmrVsCol, xtick: 3, ytick: 3,
  plugins: [frame('#bbbbbb'), pos => cellBoxes([[0, 3, 0, 1, '#e8dc2c'], [4, 4, 2, 3, '#93a850']], pos)]
});
txt('% CpG meth', 424, 474, { size: 6.5 });
cbar(406, 478, 443, 482, dmrStops, 'to right');
txt('20', 411, 489, { size: 7 }); txt('80', 438, 489, { size: 7 });
cbar(732, 432, 736, 463, dmrVsStops, 'to top');
txt('10', 738, 434, { size: 7, ax: 0 }); txt('6', 738, 447, { size: 7, ax: 0 }); txt('2', 738, 460, { size: 7, ax: 0 });
heat({ x0: 594, y0: 478, x1: 723, y1: 595, yw: 0, yr: 45, xh: 80, pt: 2, pl: 2, pr: 0 }, {
  rows: atacRows, cols: clusters13, mat: atacT, color: zCol, ylab: true, ypos: 'right', ypad: 3,
  xlab: clusters13, xpad: 10, plugins: [pos => colStrips(atacGroups, pos, 5, 2.2), divider(6)]
});
txt('ATAC peak clusters', 586, 537, { size: 9, rot: -90 });
txt('z-score', 748, 615, { size: 6.5 });
cbar(745, 622, 748, 656, zStops, 'to top');
txt('2', 750, 623, { size: 6.5, ax: 0 }); txt('0', 750, 641, { size: 6.5, ax: 0 }); txt('\u22122', 750, 656, { size: 6.5, ax: 0 });

// ---------- e ----------
strip(22, 874, 118, 888, 'ATAC peak clusters', 9.5);
strip(172, 874, 268, 888, '% Meth state', 9.5);
const ePos = eCols.map((_, j) => j + (j >= 6 ? 0.32 : 0));
heat({ x0: 23, y0: 894, x1: 118, y1: 1045, yw: 13, xh: 20, pt: 2, pr: 1 }, {
  rows: eRows, cols: eCols, mat: atacZ, color: zCol, pos: ePos, edge: '#4a4a4a', xlab: eCols, xfs: 6.5,
  plugins: [rowStrips([[0, 3, DKGRN], [4, 8, RED], [9, 12, NAVY]], 7, 2), rowStrips([[0, 1, YEL], [2, 3, GRN]], 2.5, 1.8)]
});
txt('Shared', 6.5, 916, { size: 8.5, rot: -90 });
txt('CPN', 6.5, 970, { size: 8.5, rot: -90 });
txt('CThPN', 6.5, 1023, { size: 8.5, rot: -90 });
rect(25, 1071, 68, 1072.5, RED); rect(75, 1071, 117, 1072.5, NAVY);
txt('CPN', 47, 1078, { size: 8 }); txt('CThPN', 97, 1078, { size: 8 });
cbar(122, 1009, 126, 1045, zStops, 'to top');
txt('2', 128, 1012, { size: 6.5, ax: 0 }); txt('\u22122', 127, 1043, { size: 6.5, ax: 0 });
txt('z-score', 133, 1027, { size: 6.5, rot: -90 });

mk({ x0: 173, y0: 894, x1: 268, y1: 1045, yw: 30, xh: 14, pt: 2, pr: 6 }, {
  type: 'bar',
  data: { labels: eRows, datasets: [
    { label: 'Dynamic', data: methDynamic, backgroundColor: '#b31d2c', borderColor: '#222', borderWidth: 0.8,
      borderSkipped: false, barPercentage: 0.78, categoryPercentage: 1 },
    { label: 'Stable', data: methDynamic.map(v => 100 - v), backgroundColor: '#e2e2e2', borderColor: '#222',
      borderWidth: 0.8, borderSkipped: false, barPercentage: 0.78, categoryPercentage: 1 }
  ] },
  options: {
    indexAxis: 'y',
    scales: {
      x: { stacked: true, min: 0, max: 100, afterBuildTicks: s => { s.ticks = [0, 20, 40, 60, 80, 100].map(value => ({ value })); },
        ticks: { font: { size: 7.5 }, padding: 1, color: '#222' },
        grid: { drawOnChartArea: false, tickLength: 3, color: '#333' }, border: { display: false }, afterFit: fit('height', 14) },
      y: { stacked: true, ticks: { autoSkip: false, font: { size: 8.5 }, padding: 2, color: '#222' }, grid: { display: false },
        border: { display: false }, afterFit: fit('width', 30) }
    }
  }
});
rect(178, 1064, 184, 1070, '#b31d2c');
txt('Dynamic', 187, 1067, { size: 7.5, ax: 0 });
rect(222, 1064, 228, 1070, '#e2e2e2');
txt('Stable', 231, 1067, { size: 7.5, ax: 0 });

// ---------- f ----------
strip(435, 686, 762, 700, 'Bulk ATAC clusters vs ENCODE DHS', 10, 0.6);
const fBands = {
  id: 'fbands',
  beforeDatasetsDraw(chart) {
    const { ctx, chartArea: a, scales: { x } } = chart;
    const step = x.getPixelForValue(1) - x.getPixelForValue(0);
    [[fAdultBrain, '#f9dfe0'], [fEmbryoBrain, '#dde6f5']].forEach(([idx, col]) => idx.forEach(i => {
      ctx.fillStyle = col;
      ctx.fillRect(x.getPixelForValue(i) - step / 2, a.top, step, a.bottom - a.top);
    }));
  }
};
mk({ x0: 451, y0: 707, x1: 760, y1: 799, yw: 30, xh: 225, pt: 4, pr: 4 }, {
  type: 'line',
  data: { labels: fTissues, datasets: [
    { label: 'Early', data: fEarly, showLine: false, pointRadius: 2.4, pointBackgroundColor: '#eeee48',
      pointBorderColor: '#7b7b1c', pointBorderWidth: 0.8 },
    { label: 'Late', data: fLate, showLine: false, pointRadius: 2.4, pointBackgroundColor: '#86a845',
      pointBorderColor: '#46601c', pointBorderWidth: 0.8 }
  ] },
  options: {
    scales: {
      x: { type: 'category', offset: true,
        ticks: { autoSkip: false, minRotation: 90, maxRotation: 90, padding: 2, font: { size: 7.4 },
          color: c => fAdultBrain.includes(c.index) ? '#c0404a' : fEmbryoBrain.includes(c.index) ? '#4a8fc8' : '#333' },
        grid: { drawOnChartArea: false, tickLength: 3, color: '#333' }, border: { color: '#333' },
        afterFit: fit('height', 225) },
      y: yLin(-3, 104, [0, 25, 50, 75, 100], v => v, '% overlap', 30, 10)
    }
  },
  plugins: [fBands]
});
[['Early', 705, '#eeee48', '#7b7b1c'], ['Late', 716, '#86a845', '#46601c']].forEach(([s, y, bg, bd]) => {
  const d = rect(731, y - 2.5, 736, y + 2.5, bg);
  d.style.borderRadius = '50%'; d.style.boxShadow = `0 0 0 0.8px ${bd}`;
  txt(s, 740, y, { size: 8, ax: 0, ls: 0.5 });
});

// ---------- g ----------
strip(299, 900, 491, 914, 'ATAC clusters epigenetic state', 10);
txt('H3k27ac', 374, 919.5, { size: 7 });
txt('Pol2', 428, 919.5, { size: 7 });
txt('CAGE', 468, 919.5, { size: 7 });
heat({ x0: 350, y0: 923, x1: 398, y1: 1045, yw: 70, xh: 36, pt: 2, pr: 1 }, {
  rows: gRows, cols: ['E14_wholeBrain', 'AdultCortex'], mat: gH3k27ac, color: gCol,
  ylab: true, ypad: 6, yfs: 7.5, xlab: ['E14_wholeBrain', 'AdultCortex'], rot: 35, xfs: 5.5, xtick: 2, xpad: 1,
  plugins: [frame('#333'), rowStrips([[0, 0, YEL], [1, 1, GRN], [2, 4, RED], [5, 7, NAVY]], 1.5, 2)]
});
heat({ x0: 403, y0: 923, x1: 452, y1: 1045, yw: 50, xh: 36, pt: 2, pr: 1 }, {
  rows: gRows, cols: ['E14_wholeBrain', 'Adult_Cortex'], mat: gPol2, color: gCol,
  xlab: ['E14_wholeBrain', 'Adult_Cortex'], rot: 35, xfs: 5.5, xtick: 2, xpad: 1, plugins: [frame('#333')]
});
heat({ x0: 456, y0: 923, x1: 479, y1: 1045, yw: 50, xh: 36, pt: 2, pr: 1 }, {
  rows: gRows, cols: ['CAGE_FantomEn'], mat: gCage, color: gCol,
  xlab: ['CAGE_FantomEn'], rot: 35, xfs: 5.5, xtick: 2, xpad: 1, plugins: [frame('#333')]
});
cbar(486, 994, 492, 1045, gStops, 'to top');
[30, 25, 20, 15, 10, 5, 0].forEach(v => txt(String(v), 493, 1043.3 - v * 1.577, { size: 6.5, ax: 0 }));
txt('% overlap', 506, 1013, { size: 7, rot: 90 });
</script>
</body>
</html>
